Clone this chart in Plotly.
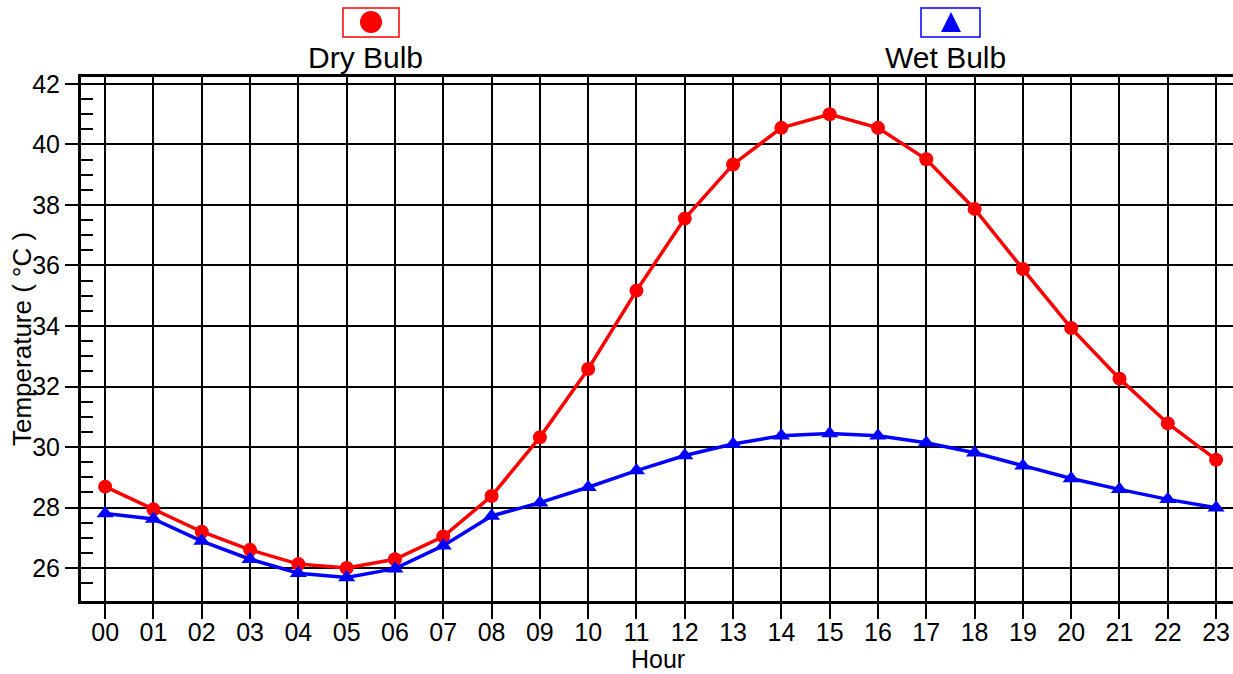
import plotly.graph_objects as go

hours = ["00", "01", "02", "03", "04", "05", "06", "07", "08", "09", "10", "11",
         "12", "13", "14", "15", "16", "17", "18", "19", "20", "21", "22", "23"]
dry_bulb = [28.69, 27.94, 27.2, 26.6, 26.13, 26.0, 26.29, 27.04, 28.38, 30.32, 32.58, 35.17,
            37.55, 39.34, 40.55, 41.0, 40.55, 39.51, 37.87, 35.88, 33.93, 32.26, 30.78, 29.58]
wet_bulb = [27.8, 27.62, 26.89, 26.29, 25.83, 25.69, 25.98, 26.74, 27.72, 28.16, 28.67, 29.22,
            29.72, 30.1, 30.37, 30.45, 30.37, 30.14, 29.81, 29.38, 28.96, 28.6, 28.27, 27.99]
y_minor_ticks = [v / 2 for v in range(51, 84) if v % 4 != 0]

RED = "#FF0000"
BLUE = "#0000FF"
FONT = "Liberation Sans, Arial, sans-serif"

fig = go.Figure()
fig.add_trace(go.Scatter(x=hours, y=dry_bulb, mode="lines+markers", name="Dry Bulb",
                         line=dict(color=RED, width=3.5),
                         marker=dict(symbol="circle", size=14, color=RED)))
fig.add_trace(go.Scatter(x=hours, y=wet_bulb, mode="lines+markers", name="Wet Bulb",
                         line=dict(color=BLUE, width=3.5),
                         marker=dict(symbol="triangle-up", size=15, color=BLUE)))

W, H = 1233, 674
L, T, B = 81, 77, 601          # px of plot left / top / bottom
R = W                          # plot right edge at figure edge
PW, PH = R - L, B - T

def px(xp):
    return (xp - L) / PW

def py(yp):
    return (B - yp) / PH

shapes = []
annotations = []

# legend: Dry Bulb
shapes.append(dict(type="rect", xref="paper", yref="paper",
                   x0=px(343), x1=px(399), y0=py(37), y1=py(8),
                   line=dict(color=RED, width=1.5), fillcolor="rgba(0,0,0,0)"))
shapes.append(dict(type="circle", xref="paper", yref="paper",
                   x0=px(360), x1=px(382), y0=py(33), y1=py(11),
                   line=dict(color=RED, width=0), fillcolor=RED))
annotations.append(dict(text="Dry Bulb", xref="paper", yref="paper",
                        x=px(365), y=py(57), xanchor="center", yanchor="middle",
                        showarrow=False, font=dict(family=FONT, size=30, color="black")))
# legend: Wet Bulb
shapes.append(dict(type="rect", xref="paper", yref="paper",
                   x0=px(921), x1=px(980), y0=py(37), y1=py(8),
                   line=dict(color=BLUE, width=1.5), fillcolor="rgba(0,0,0,0)"))
tri = "M {:.5f},{:.5f} L {:.5f},{:.5f} L {:.5f},{:.5f} Z".format(
    px(951), py(12), px(941), py(32), px(961), py(32))
shapes.append(dict(type="path", xref="paper", yref="paper", path=tri,
                   line=dict(color=BLUE, width=0), fillcolor=BLUE))
annotations.append(dict(text="Wet Bulb", xref="paper", yref="paper",
                        x=px(945), y=py(57), xanchor="center", yanchor="middle",
                        showarrow=False, font=dict(family=FONT, size=30, color="black")))

# axis titles
annotations.append(dict(text="Temperature ( \u00b0C )", xref="paper", yref="paper",
                        x=px(22), y=py(339), xanchor="center", yanchor="middle", textangle=-90,
                        showarrow=False, font=dict(family=FONT, size=26, color="black")))
annotations.append(dict(text="Hour", xref="paper", yref="paper",
                        x=px(658), y=py(659), xanchor="center", yanchor="middle",
                        showarrow=False, font=dict(family=FONT, size=25, color="black")))

fig.update_layout(
    width=W, height=H,
    margin=dict(l=L, r=W - R, t=T, b=H - B, pad=0),
    paper_bgcolor="white", plot_bgcolor="white",
    showlegend=False,
    font=dict(family=FONT, size=25, color="black"),
    shapes=shapes, annotations=annotations,
    xaxis=dict(type="category", range=[-0.5, 23.35],
               showgrid=True, gridcolor="black", gridwidth=2,
               showline=True, linecolor="black", linewidth=3, mirror=True,
               ticks="outside", ticklen=15, tickwidth=2, tickcolor="black",
               tickfont=dict(family=FONT, size=25, color="black"),
               ticklabelstandoff=-8,
               zeroline=False, fixedrange=True),
    yaxis=dict(range=[24.91, 42.23], tick0=0, dtick=2,
               showgrid=True, gridcolor="black", gridwidth=2,
               showline=True, linecolor="black", linewidth=3, mirror=False,
               ticks="outside", ticklen=13, tickwidth=2, tickcolor="black",
               tickfont=dict(family=FONT, size=25, color="black"),
               minor=dict(tickmode="array", tickvals=y_minor_ticks, ticks="inside",
                          ticklen=12, tickwidth=2, tickcolor="black", showgrid=False),
               zeroline=False, fixedrange=True),
)

fig.write_html("out.html",
               config={"displayModeBar": False},
               post_script="document.body.style.margin='0';"
                           "document.body.style.overflow='hidden';")
